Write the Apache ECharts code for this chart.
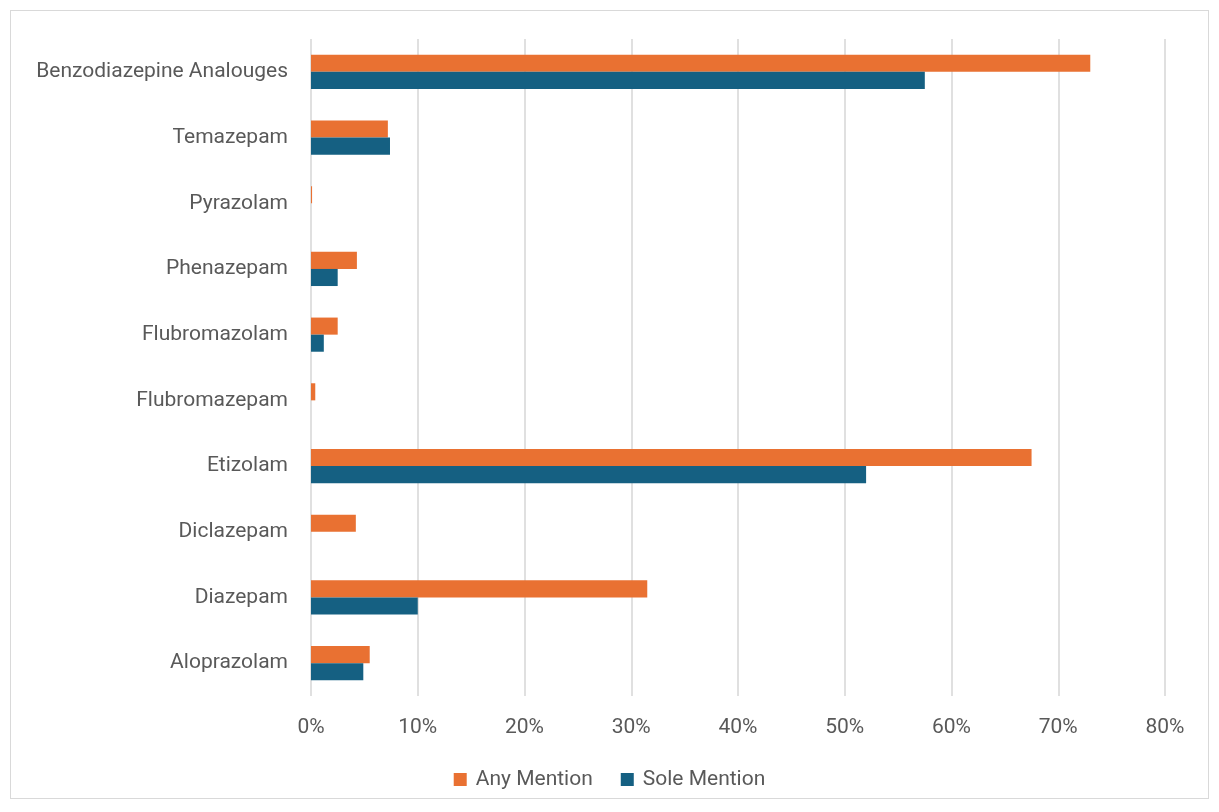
<!DOCTYPE html>
<html>
<head>
<meta charset="utf-8">
<script src="https://cdn.jsdelivr.net/npm/echarts@6/dist/echarts.min.js"></script>
<style>
  html, body { margin: 0; padding: 0; background: #ffffff; }
  #frame {
    position: absolute; left: 10px; top: 10px; width: 1199px; height: 789px;
    border: 1px solid #d9d9d9; box-sizing: border-box; background: #fff;
  }
  #chart { position: absolute; left: 0; top: 0; width: 1219px; height: 812px; }
</style>
</head>
<body>
<div id="frame"></div>
<div id="chart"></div>
<script>
// Substances, listed top to bottom
const categories = [
  'Benzodiazepine Analouges', 'Temazepam', 'Pyrazolam', 'Phenazepam',
  'Flubromazolam', 'Flubromazepam', 'Etizolam', 'Diclazepam', 'Diazepam', 'Aloprazolam'
];
// Share of cases (%)
const anyMention  = [73.0, 7.2, 0.1, 4.3, 2.5, 0.4, 67.5, 4.2, 31.5, 5.5];
const soleMention = [57.5, 7.4, 0.0, 2.5, 1.2, 0.0, 52.0, 0.0, 10.0, 4.9];
const seriesNames = ['Any Mention', 'Sole Mention'];
const xTicks = { min: 0, max: 80, step: 10 };

const textColor = '#595959';
const font = 'Roboto, "Open Sans", sans-serif';

const chart = echarts.init(document.getElementById('chart'), null, { renderer: 'canvas' });
chart.setOption({
  animation: false,
  grid: { left: 311, right: 54, top: 39, bottom: 116, containLabel: false },
  legend: {
    data: seriesNames,
    bottom: 17,
    left: 'center',
    itemWidth: 13, itemHeight: 13, itemGap: 28,
    icon: 'rect',
    textStyle: { color: textColor, fontSize: 21, fontFamily: font, padding: [0, 0, 0, 4] }
  },
  xAxis: {
    type: 'value',
    min: xTicks.min, max: xTicks.max, interval: xTicks.step,
    axisLine: { show: false },
    axisTick: { show: false },
    axisLabel: { formatter: '{value}%', color: textColor, fontSize: 21, fontFamily: font, margin: 21 },
    splitLine: { show: true, lineStyle: { color: '#e0e0e0', width: 2 } }
  },
  yAxis: {
    type: 'category',
    data: categories,
    inverse: true,
    axisLine: { show: false },
    axisTick: { show: false },
    axisLabel: { color: textColor, fontSize: 21, fontFamily: font, margin: 23 }
  },
  series: [
    {
      name: seriesNames[0], type: 'bar', data: anyMention,
      itemStyle: { color: '#e97132' },
      barGap: '0%', barCategoryGap: '48%'
    },
    {
      name: seriesNames[1], type: 'bar', data: soleMention,
      itemStyle: { color: '#156082' },
      barGap: '0%', barCategoryGap: '48%'
    }
  ]
});
</script>
</body>
</html>
